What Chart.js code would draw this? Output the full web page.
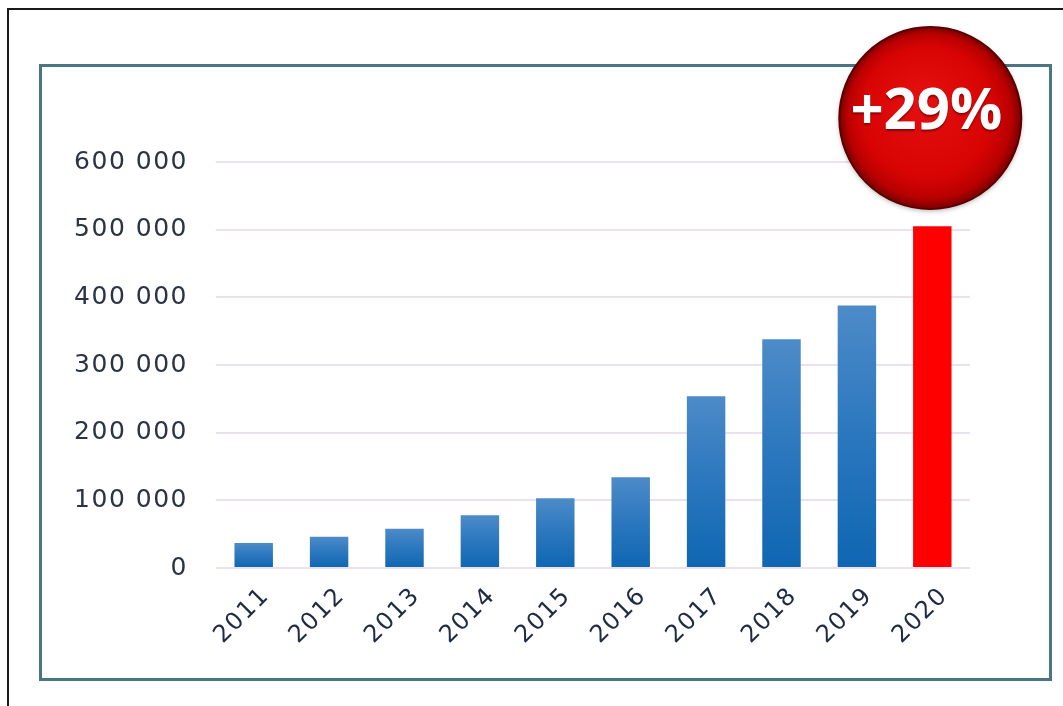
<!DOCTYPE html>
<html>
<head>
<meta charset="utf-8">
<script src="https://cdn.jsdelivr.net/npm/chart.js@4.4.1/dist/chart.umd.min.js"></script>
<style>
  html, body { margin: 0; padding: 0; background: #ffffff; }
  #wrap { width: 1063px; height: 706px; position: relative; }
</style>
</head>
<body>
<div id="wrap"><canvas id="c" width="1063" height="706"></canvas></div>
<script>
const years = ['2011','2012','2013','2014','2015','2016','2017','2018','2019','2020'];
const counts = [37000, 46000, 58000, 78000, 103000, 134000, 254000, 338000, 388000, 505000];
const yTicks = [0, 100000, 200000, 300000, 400000, 500000, 600000];
const badgeText = '+29%';

function fmt(v) {
  return String(v).replace(/\B(?=(\d{3})+(?!\d))/g, ' ');
}

const framePlugin = {
  id: 'frames',
  beforeDraw(chart) {
    const ctx = chart.ctx;
    ctx.save();
    ctx.fillStyle = '#ffffff';
    ctx.fillRect(0, 0, chart.width, chart.height);
    ctx.strokeStyle = '#1a1a1a';
    ctx.lineWidth = 2;
    ctx.beginPath();
    ctx.moveTo(8, 706);
    ctx.lineTo(8, 9);
    ctx.lineTo(1063, 9);
    ctx.stroke();
    ctx.strokeStyle = '#4a7585';
    ctx.lineWidth = 3;
    ctx.strokeRect(40.5, 65.5, 1010, 614);
    ctx.restore();
    ctx.letterSpacing = '1.5px';
  }
};

const badgePlugin = {
  id: 'badge',
  afterDraw(chart) {
    const ctx = chart.ctx;
    const xs = chart.scales.x;
    const cx = xs.getPixelForValue(years.length - 1) - 2;
    const cy = 118;
    const r = 91;
    ctx.save();
    ctx.letterSpacing = '0px';
    ctx.shadowColor = 'rgba(0,0,0,0.3)';
    ctx.shadowBlur = 5;
    ctx.shadowOffsetY = 2;
    const g = ctx.createRadialGradient(cx - 10, cy - 20, 5, cx, cy, r);
    g.addColorStop(0, '#e41010');
    g.addColorStop(0.7, '#d80404');
    g.addColorStop(0.9, '#b80000');
    g.addColorStop(1, '#780000');
    ctx.fillStyle = g;
    ctx.beginPath();
    ctx.arc(cx, cy, r, 0, Math.PI * 2);
    ctx.fill();
    ctx.shadowColor = 'transparent';
    ctx.lineWidth = 2;
    ctx.strokeStyle = '#5a0000';
    ctx.stroke();
    ctx.fillStyle = '#ffffff';
    ctx.font = 'bold 58px "Open Sans"';
    ctx.textAlign = 'center';
    ctx.textBaseline = 'middle';
    ctx.shadowColor = 'rgba(80,0,0,0.6)';
    ctx.shadowBlur = 2;
    ctx.fillText(badgeText, cx - 4, cy - 6);
    ctx.restore();
  }
};

function barColor(context) {
  const chart = context.chart;
  const i = context.dataIndex;
  if (i === counts.length - 1) return '#fe0000';
  const area = chart.chartArea;
  const ys = chart.scales.y;
  if (!area || !ys) return '#1f6db5';
  const top = ys.getPixelForValue(counts[i]);
  const base = ys.getPixelForValue(0);
  const g = chart.ctx.createLinearGradient(0, top, 0, base);
  g.addColorStop(0, '#4d8bc8');
  g.addColorStop(0.5, '#2a77be');
  g.addColorStop(1, '#0f66b2');
  return g;
}

new Chart(document.getElementById('c'), {
  type: 'bar',
  data: {
    labels: years,
    datasets: [{
      data: counts,
      backgroundColor: barColor,
      borderWidth: 0,
      barPercentage: 0.51,
      categoryPercentage: 1.0
    }]
  },
  options: {
    responsive: false,
    animation: false,
    devicePixelRatio: 1,
    layout: { padding: { left: 0, top: 162, right: 93, bottom: 0 } },
    plugins: { legend: { display: false }, tooltip: { enabled: false } },
    scales: {
      x: {
        grid: { display: false },
        border: { display: false },
        ticks: {
          color: '#1f2a44',
          font: { family: 'DejaVu Sans', size: 24 },
          maxRotation: 45,
          minRotation: 45,
          padding: 6,
          labelOffset: 12
        },
        afterFit(scale) { scale.height = 138; }
      },
      y: {
        min: 0,
        max: 600000,
        afterBuildTicks(scale) { scale.ticks = yTicks.map(v => ({ value: v })); },
        grid: { color: '#e9e2ee', lineWidth: 2, drawTicks: false },
        border: { display: false },
        ticks: {
          color: '#2b3346',
          font: { family: 'DejaVu Sans', size: 25 },
          padding: 28,
          callback: (v) => fmt(v)
        },
        afterFit(scale) { scale.width = 216; }
      }
    }
  },
  plugins: [framePlugin, badgePlugin]
});
</script>
</body>
</html>
